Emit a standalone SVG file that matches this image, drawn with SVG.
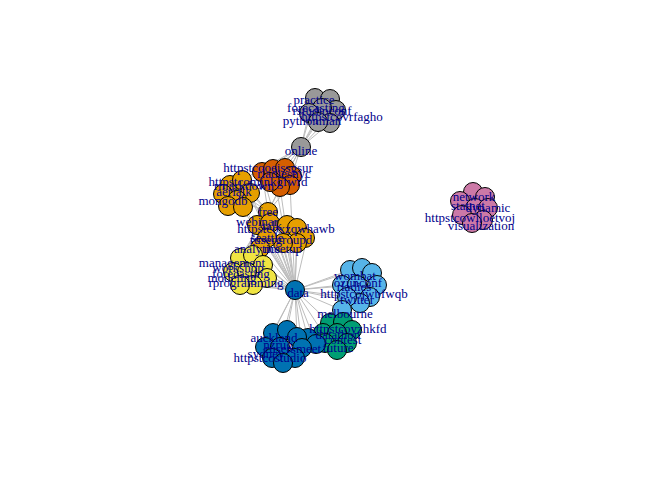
<svg xmlns="http://www.w3.org/2000/svg" width="672" height="480" viewBox="0 0 672 480">
<style>
.e{stroke:#bdbdbd;stroke-width:1;fill:none}
circle{stroke:#000;stroke-width:1}
.gy{fill:#999999}.do{fill:#D55E00}.or{fill:#E69F00}.ye{fill:#F0E442}.bl{fill:#0072B2}.sb{fill:#56B4E9}.gr{fill:#009E73}.pk{fill:#CC79A7}
text{font-family:"Liberation Serif","Times New Roman",serif;font-size:13px;fill:#00008B;text-anchor:middle}
</style>
<rect width="672" height="480" fill="#fff"/>
<g id="connectors">
<path class="e" d="M301,147L315,98M301,147L330,99M301,147L336,110M301,147L322,108M301,147L309,113M301,147L330,123M301,147L318,122M301,147L262,172M301,147L273,170M301,147L285,168M301,147L292,175M301,147L280,187M301,147L242,180M301,147L250,193M301,147L268,212"/>
<path class="e" d="M295,290L268,212M295,290L262,172M295,290L273,170M295,290L280,187M295,290L290,185M295,290L230,185M295,290L242,180M295,290L237,200M295,290L250,193M295,290L257,225M295,290L270,223M295,290L287,225M295,290L297,228M295,290L307,238M295,290L297,243M295,290L283,243M295,290L267,238M295,290L260,248M295,290L240,258M295,290L253,255M295,290L263,265M295,290L267,278M295,290L253,285M295,290L240,285M295,290L233,272M295,290L247,272"/>
<path class="e" d="M295,290L350,270M295,290L362,268M295,290L342,285M295,290L357,285M295,290L347,297M295,290L360,303M295,290L342,310M295,290L273,333M295,290L287,330M295,290L297,337M295,290L302,347M295,290L280,347M295,290L265,347M295,290L308,338M295,290L316,344M295,290L323,333M295,290L330,323"/>
<path class="e" d="M268,212L230,185M268,212L242,180M268,212L223,193M268,212L237,200M268,212L250,193M268,212L262,172M268,212L280,187M268,212L290,185M268,212L233,272M268,212L247,272M268,212L240,258"/>
<path class="e" d="M342,310L330,323M342,310L343,322M342,310L337,333M342,310L352,330"/>
<path class="e" d="M473,192L485,197M460,200L488,208M462,215L483,220"/>
</g>
<g id="nodes">
<g id="n-gray"><circle class="gy" cx="315" cy="98" r="9.5"/><circle class="gy" cx="330" cy="99" r="9.5"/><circle class="gy" cx="336" cy="110" r="9.5"/><circle class="gy" cx="322" cy="108" r="9.5"/><circle class="gy" cx="309" cy="113" r="9.5"/><circle class="gy" cx="330" cy="123" r="9.5"/><circle class="gy" cx="318" cy="122" r="9.5"/></g>
<g id="n-online"><circle class="gy" cx="301" cy="147" r="9.5"/></g>
<g id="n-darkorange"><circle class="do" cx="262" cy="172" r="9.5"/><circle class="do" cx="273" cy="169" r="9.5"/><circle class="do" cx="285" cy="168" r="9.5"/><circle class="do" cx="292" cy="176" r="9.5"/><circle class="do" cx="290" cy="185" r="9.5"/><circle class="do" cx="280" cy="187" r="9.5"/><circle class="do" cx="270" cy="182" r="9.5"/></g>
<g id="n-orange"><circle class="or" cx="230" cy="185" r="9.5"/><circle class="or" cx="242" cy="180" r="9.5"/><circle class="or" cx="223" cy="194" r="9.5"/><circle class="or" cx="250" cy="193" r="9.5"/><circle class="or" cx="237" cy="200" r="9.5"/><circle class="or" cx="228" cy="206" r="9.5"/><circle class="or" cx="243" cy="207" r="9.5"/></g>
<g id="n-free"><circle class="or" cx="268" cy="212" r="9.5"/></g>
<g id="n-orange2"><circle class="or" cx="257" cy="225" r="9.5"/><circle class="or" cx="270" cy="223" r="9.5"/><circle class="or" cx="287" cy="225" r="9.5"/><circle class="or" cx="297" cy="228" r="9.5"/><circle class="or" cx="305" cy="238" r="9.5"/><circle class="or" cx="297" cy="243" r="9.5"/><circle class="or" cx="283" cy="243" r="9.5"/><circle class="or" cx="267" cy="238" r="9.5"/><circle class="or" cx="260" cy="248" r="9.5"/></g>
<g id="n-yellow"><circle class="ye" cx="240" cy="258" r="9.5"/><circle class="ye" cx="253" cy="255" r="9.5"/><circle class="ye" cx="263" cy="265" r="9.5"/><circle class="ye" cx="233" cy="272" r="9.5"/><circle class="ye" cx="247" cy="272" r="9.5"/><circle class="ye" cx="267" cy="278" r="9.5"/><circle class="ye" cx="253" cy="285" r="9.5"/><circle class="ye" cx="240" cy="285" r="9.5"/></g>
<g id="n-data"><circle class="bl" cx="295" cy="290" r="9.5"/></g>
<g id="n-skyblue"><circle class="sb" cx="350" cy="270" r="9.5"/><circle class="sb" cx="362" cy="268" r="9.5"/><circle class="sb" cx="372" cy="273" r="9.5"/><circle class="sb" cx="377" cy="285" r="9.5"/><circle class="sb" cx="342" cy="285" r="9.5"/><circle class="sb" cx="357" cy="285" r="9.5"/><circle class="sb" cx="370" cy="297" r="9.5"/><circle class="sb" cx="360" cy="303" r="9.5"/><circle class="sb" cx="347" cy="297" r="9.5"/></g>
<g id="n-melbourne"><circle class="sb" cx="342" cy="310" r="9.5"/></g>
<g id="n-green"><circle class="gr" cx="330" cy="323" r="9.5"/><circle class="gr" cx="343" cy="322" r="9.5"/><circle class="gr" cx="352" cy="330" r="9.5"/><circle class="gr" cx="323" cy="333" r="9.5"/><circle class="gr" cx="337" cy="333" r="9.5"/><circle class="gr" cx="325" cy="343" r="9.5"/><circle class="gr" cx="347" cy="343" r="9.5"/><circle class="gr" cx="337" cy="350" r="9.5"/></g>
<g id="n-blue"><circle class="bl" cx="308" cy="338" r="9.5"/><circle class="bl" cx="316" cy="344" r="9.5"/><circle class="bl" cx="273" cy="333" r="9.5"/><circle class="bl" cx="287" cy="330" r="9.5"/><circle class="bl" cx="297" cy="337" r="9.5"/><circle class="bl" cx="265" cy="347" r="9.5"/><circle class="bl" cx="280" cy="347" r="9.5"/><circle class="bl" cx="302" cy="348" r="9.5"/><circle class="bl" cx="272" cy="358" r="9.5"/><circle class="bl" cx="295" cy="358" r="9.5"/><circle class="bl" cx="283" cy="363" r="9.5"/></g>
<g id="n-pink"><circle class="pk" cx="473" cy="192" r="9.5"/><circle class="pk" cx="485" cy="197" r="9.5"/><circle class="pk" cx="460" cy="201" r="9.5"/><circle class="pk" cx="475" cy="208" r="9.5"/><circle class="pk" cx="488" cy="208" r="9.5"/><circle class="pk" cx="462" cy="215" r="9.5"/><circle class="pk" cx="483" cy="220" r="9.5"/><circle class="pk" cx="472" cy="223" r="9.5"/></g>
</g>
<g id="labels">
<text x="314" y="104">practice</text>
<text x="316" y="112">forecasting</text>
<text x="322" y="115">rstudioconf</text>
<text x="342" y="121">httpstcovrfagho</text>
<text x="312" y="125">pythonman</text>
<text x="301" y="155">online</text>
<text x="268" y="172">httpstcooeissgsur</text>
<text x="284" y="178">rladiesnyc</text>
<text x="258" y="186">httpstcomjnkgfwrd</text>
<text x="244" y="190">rmarkdown</text>
<text x="234" y="196">aerialk</text>
<text x="223" y="205">mongodb</text>
<text x="268" y="216">free</text>
<text x="257" y="226">webinar</text>
<text x="286" y="233">httpstcoxzqwhawb</text>
<text x="272" y="230">talk</text>
<text x="267" y="242">seattle</text>
<text x="281" y="244">rusergroupd</text>
<text x="257" y="253">analytics</text>
<text x="283" y="253">meetup</text>
<text x="232" y="267">management</text>
<text x="238" y="272">workshop</text>
<text x="241" y="278">forecasting</text>
<text x="232" y="282">modeling</text>
<text x="246" y="287">rprogramming</text>
<text x="298" y="297">data</text>
<text x="364" y="298">httpstcojwbfwqb</text>
<text x="355" y="280">wombat</text>
<text x="358" y="287">ozunconf</text>
<text x="354" y="291">rladies</text>
<text x="357" y="304">twitter</text>
<text x="345" y="318">melbourne</text>
<text x="348" y="333">httpstcoyzhkfd</text>
<text x="343" y="344">contest</text>
<text x="338" y="352">future</text>
<text x="338" y="339">datathon</text>
<text x="274" y="342">auckland</text>
<text x="278" y="349">nzrug</text>
<text x="293" y="353">rusersmeet</text>
<text x="266" y="358">sydney</text>
<text x="270" y="362">httpstcostudio</text>
<text x="474" y="201">network</text>
<text x="468" y="210">statnet</text>
<text x="488" y="212">dynamic</text>
<text x="470" y="222">httpstcowlloetvoj</text>
<text x="481" y="230">visualization</text>
</g>
</svg>
